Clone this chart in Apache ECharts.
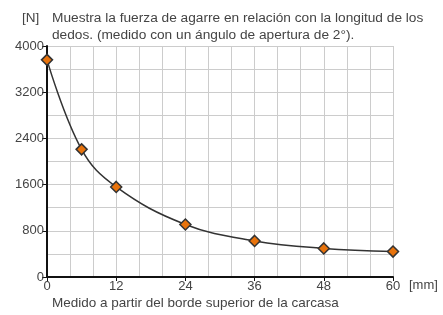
<!DOCTYPE html>
<html lang="es">
<head>
	<meta charset="UTF-8">
	<title>Fuerza de agarre</title>
	<script src="https://cdn.jsdelivr.net/npm/echarts@6/dist/echarts.min.js"></script>
	<style>
		html, body { margin: 0; padding: 0; background: #fff; }
		#chart { width: 443px; height: 315px; }
	</style>
</head>
<body>
	<div id="chart"></div>
	<script>
		// longitud de los dedos [mm] y fuerza de agarre [N]
		var longitud = [0, 6, 12, 24, 36, 48, 60];
		var fuerza = [3760, 2210, 1560, 910, 625, 495, 440];
		var xLabels = [0, 12, 24, 36, 48, 60];
		var yLabels = [0, 800, 1600, 2400, 3200, 4000];

		var font = 'Liberation Sans';
		var txt = '#444';
		var chart = echarts.init(document.getElementById('chart'));

		var option = {
			animation: false,
			textStyle: { fontFamily: font },
			title: [
				{ text: '[N]', left: 17, top: 6, textStyle: { fontSize: 13.5, fontWeight: 'normal', color: txt, fontFamily: font } },
				{
					text: 'Muestra la fuerza de agarre en relación con la longitud de los\ndedos. (medido con un ángulo de apertura de 2°).',
					left: 47, top: 5,
					textStyle: { fontSize: 13.7, fontWeight: 'normal', color: txt, lineHeight: 16.5, fontFamily: font }
				},
				{ text: 'Medido a partir del borde superior de la carcasa', left: 47, top: 291, textStyle: { fontSize: 13.5, fontWeight: 'normal', color: txt, fontFamily: font } }
			],
			grid: { left: 47, right: 50, top: 46, bottom: 38, containLabel: false },
			xAxis: {
				type: 'value', min: 0, max: 60, interval: 12,
				name: '[mm]', nameLocation: 'end', nameGap: 16,
				nameTextStyle: { fontSize: 13, color: txt, verticalAlign: 'top', padding: [2, 0, 0, 0] },
				axisLine: { lineStyle: { color: '#111', width: 2 } },
				axisTick: { show: true, length: 4, lineStyle: { color: '#111' } },
				axisLabel: { color: txt, fontSize: 13, margin: 3, formatter: function (v) { return String(v); } },
				splitLine: { show: true, lineStyle: { color: '#ccc', width: 1 } },
				minorTick: { show: false, splitNumber: 3 },
				minorSplitLine: { show: true, lineStyle: { color: '#ccc', width: 1 } }
			},
			yAxis: {
				type: 'value', min: 0, max: 4000, interval: 800,
				axisLine: { show: true, lineStyle: { color: '#111', width: 2 } },
				axisTick: { show: true, length: 5, lineStyle: { color: '#111' } },
				axisLabel: { color: txt, fontSize: 13, margin: 3, formatter: function (v) { return String(v); } },
				splitLine: { show: true, lineStyle: { color: '#ccc', width: 1 } },
				minorTick: { show: false, splitNumber: 2 },
				minorSplitLine: { show: true, lineStyle: { color: '#ccc', width: 1 } }
			},
			series: [{
				type: 'line',
				smooth: 0.4,
				data: longitud.map(function (x, i) { return [x, fuerza[i]]; }),
				symbol: 'diamond',
				symbolSize: 11,
				lineStyle: { color: '#333', width: 1.5 },
				itemStyle: { color: '#e8730c', borderColor: '#333', borderWidth: 1.5 }
			}]
		};
		chart.setOption(option);
	</script>
</body>
</html>
